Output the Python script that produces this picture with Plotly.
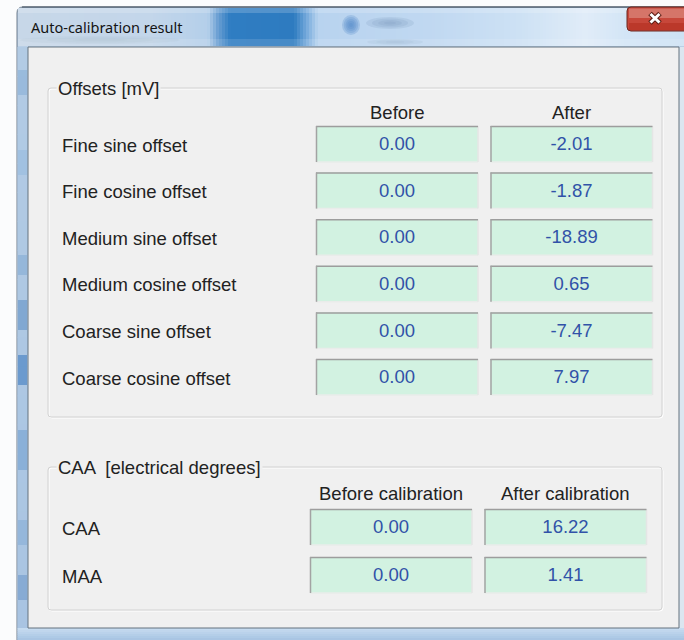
import plotly.graph_objects as go

# ---------------- data ----------------
window_title = "Auto-calibration result"

offsets_group_title = "Offsets [mV]"
offset_headers = ["Before", "After"]
offset_labels = ["Fine sine offset", "Fine cosine offset", "Medium sine offset",
                 "Medium cosine offset", "Coarse sine offset", "Coarse cosine offset"]
offset_before = [0.00, 0.00, 0.00, 0.00, 0.00, 0.00]
offset_after = [-2.01, -1.87, -18.89, 0.65, -7.47, 7.97]

caa_group_title = "CAA  [electrical degrees]"
caa_headers = ["Before calibration", "After calibration"]
caa_labels = ["CAA", "MAA"]
caa_before = [0.00, 0.00]
caa_after = [16.22, 1.41]

# ---------------- helpers ----------------
W, H = 684, 640
shapes = []
annotations = []

LABEL_FONT = "Liberation Sans, Arial, sans-serif"
TITLE_FONT = "Noto Sans, Open Sans, sans-serif"


def hexrgb(c):
    c = c.lstrip("#")
    return tuple(int(c[i:i + 2], 16) for i in (0, 2, 4))


def mix(c1, c2, t):
    a, b = hexrgb(c1), hexrgb(c2)
    return "#%02x%02x%02x" % tuple(round(a[i] + (b[i] - a[i]) * t) for i in range(3))


def rect(x0, y0, x1, y1, fill=None, line=None, lw=0, opacity=1.0):
    shapes.append(dict(type="rect", xref="x", yref="y", x0=x0, y0=y0, x1=x1, y1=y1,
                       fillcolor=fill if fill else "rgba(0,0,0,0)",
                       line=dict(color=line if line else "rgba(0,0,0,0)", width=lw),
                       opacity=opacity, layer="below"))


def seg(x0, y0, x1, y1, color, lw=1, layer="below"):
    shapes.append(dict(type="line", xref="x", yref="y", x0=x0, y0=y0, x1=x1, y1=y1,
                       line=dict(color=color, width=lw), layer=layer))


def rrect_path(x0, y0, x1, y1, r):
    return (f"M{x0 + r},{y0} L{x1 - r},{y0} Q{x1},{y0} {x1},{y0 + r} "
            f"L{x1},{y1 - r} Q{x1},{y1} {x1 - r},{y1} L{x0 + r},{y1} "
            f"Q{x0},{y1} {x0},{y1 - r} L{x0},{y0 + r} Q{x0},{y0} {x0 + r},{y0} Z")


def rrect(x0, y0, x1, y1, r, fill=None, line=None, lw=1, layer="below", opacity=1.0):
    shapes.append(dict(type="path", xref="x", yref="y", path=rrect_path(x0, y0, x1, y1, r),
                       fillcolor=fill if fill else "rgba(0,0,0,0)",
                       line=dict(color=line if line else "rgba(0,0,0,0)", width=lw),
                       layer=layer, opacity=opacity))


def blob(cx, cy, rx, ry, color, n=5, op=0.22):
    for k in range(n):
        f = 1 - k / n
        shapes.append(dict(type="circle", xref="x", yref="y",
                           x0=cx - rx * f, x1=cx + rx * f, y0=cy - ry * f, y1=cy + ry * f,
                           fillcolor=color, line=dict(width=0), opacity=op, layer="below"))


def hgrad(x0, x1, y0, y1, stops, step=3):
    x = x0
    while x < x1:
        xm = x + step / 2
        for i in range(len(stops) - 1):
            if stops[i][0] <= xm <= stops[i + 1][0]:
                t = (xm - stops[i][0]) / max(1e-9, stops[i + 1][0] - stops[i][0])
                col = mix(stops[i][1], stops[i + 1][1], t)
                break
        else:
            col = stops[-1][1]
        rect(x, y0, min(x + step + 0.6, x1), y1, fill=col)
        x += step


def vgrad(x0, x1, y0, y1, c0, c1, n):
    h = (y1 - y0) / n
    for i in range(n):
        rect(x0, y0 + i * h, x1, y0 + (i + 1) * h + 0.6, fill=mix(c0, c1, (i + 0.5) / n))


# ---------------- window chrome ----------------
rrect(17, 7, 700, 660, 6, fill="#b9cfe6", line="#6f7d8b", lw=1)

# title bar (blurred aero glass)
hgrad(18, 684, 8, 46, [
    (18, "#c7d7e8"), (150, "#c3d6ea"), (208, "#b4cfea"), (218, "#6a9fd3"),
    (230, "#2f7dc2"), (294, "#2e7bc0"), (306, "#72a8da"), (318, "#b8d3ef"),
    (430, "#c0d8f1"), (520, "#cde1f4"), (585, "#e0ecf8"), (626, "#d3e5f6"),
    (684, "#cde2f4")], step=3)
rect(18, 8, 684, 13, fill="#ffffff", opacity=0.18)
rect(18, 39, 684, 46, fill="#ffffff", opacity=0.12)
# blurred background icon + text behind glass
blob(351, 25, 9, 10, "#4f89c6", n=5, op=0.25)
blob(390, 23, 24, 6, "#7f9dbf", n=4, op=0.2)
blob(395, 42, 28, 3, "#9fb7d0", n=3, op=0.2)
blob(100, 40, 80, 4, "#a9b9c9", n=3, op=0.15)
seg(22, 7, 684, 7, "#3d4b59", 1)

# left frame streaks
vgrad(17.5, 28, 47, 628, "#b2cbe4", "#a9c4e2", 20)
for (ya, yb, col) in [(70, 95, "#8fb3d9"), (150, 175, "#9bbde0"), (255, 275, "#8aafd6"),
                      (300, 330, "#6e9acb"), (355, 385, "#4f88c4"), (430, 470, "#7ca7d3"),
                      (520, 545, "#8cb1d8"), (575, 600, "#789fcf")]:
    rect(18, ya, 27, yb, fill=col, opacity=0.7)

# bottom frame
vgrad(17.5, 684, 628, 640, "#c8ddf1", "#a6c3e2", 6)
# right frame
rect(679, 47, 684, 628, fill="#dbe6f0")

# client area
rect(28, 47, 679, 628, fill="#f0f0f0", line="#65737f", lw=1)

# close button
rrect(627, 7, 694, 31, 4, fill="#c7473a", line="#6b2820", lw=1)
rect(629, 8.5, 684, 18, fill="#e09a90", opacity=0.55)
rect(629, 23, 684, 30, fill="#b22e1f", opacity=0.6)
seg(650, 13.5, 660, 23, "#5a1c14", 5, layer="above")
seg(660, 13.5, 650, 23, "#5a1c14", 5, layer="above")
seg(650.5, 14, 659.5, 22.5, "#ffffff", 3, layer="above")
seg(659.5, 14, 650.5, 22.5, "#ffffff", 3, layer="above")

annotations.append(dict(x=29, y=27, xref="x", yref="y", text=window_title, showarrow=False,
                        xanchor="left", yanchor="middle",
                        font=dict(family=TITLE_FONT, size=14.5, color="#141414")))


# ---------------- group boxes ----------------
def group_box(x0, y0, x1, y1, title):
    rrect(x0 + 1, y0 + 1, x1 + 1, y1 + 1, 3, line="#ffffff", lw=1)
    rrect(x0, y0, x1, y1, 3, line="#d2d2d2", lw=1)
    annotations.append(dict(x=56, y=y0, xref="x", yref="y", text=title, showarrow=False,
                            xanchor="left", yanchor="middle", bgcolor="#f0f0f0", borderpad=1,
                            font=dict(family=LABEL_FONT, size=18.5, color="#222222")))


def cell(x0, y0, x1, y1):
    rect(x0, y0, x1, y1, fill="#d2f2e1")
    seg(x0, y1, x1, y1, "#e9ecea", 1.5)
    seg(x1, y0, x1, y1, "#e4e6e5", 1.5)
    seg(x0, y0 + 0.5, x1, y0 + 0.5, "#9d9d9d", 1.5)
    seg(x0 + 0.5, y0, x0 + 0.5, y1, "#a3a3a3", 1.5)


def value_table(labels, before, after, headers, row_y0, row_step, col_x, cell_w, head_y):
    xs, ys, txt = [], [], []
    for i, lab in enumerate(labels):
        yc = row_y0 + i * row_step
        annotations.append(dict(x=60, y=yc + 1, xref="x", yref="y", text=lab, showarrow=False,
                                xanchor="left", yanchor="middle",
                                font=dict(family=LABEL_FONT, size=18.5, color="#222222")))
        for j, vals in enumerate((before, after)):
            cx = col_x[j]
            cell(cx - cell_w / 2, yc - 18, cx + cell_w / 2, yc + 18)
            xs.append(cx)
            ys.append(yc + 1.5)
            txt.append(f"{vals[i]:.2f}")
    for j, h in enumerate(headers):
        annotations.append(dict(x=col_x[j], y=head_y, xref="x", yref="y", text=h,
                                showarrow=False, xanchor="center", yanchor="middle",
                                font=dict(family=LABEL_FONT, size=18.5, color="#222222")))
    return go.Scatter(x=xs, y=ys, mode="text", text=txt, textposition="middle center",
                      textfont=dict(family=LABEL_FONT, size=18.5, color="#3152a8"),
                      hoverinfo="skip", showlegend=False)


group_box(48, 88, 662, 417, offsets_group_title)
group_box(48, 467, 662, 610, caa_group_title)

t1 = value_table(offset_labels, offset_before, offset_after, offset_headers,
                 row_y0=144, row_step=46.6, col_x=[397, 571.5], cell_w=162, head_y=112)
t2 = value_table(caa_labels, caa_before, caa_after, caa_headers,
                 row_y0=527, row_step=48, col_x=[391, 565.5], cell_w=162, head_y=493)

fig = go.Figure(data=[t1, t2])
fig.update_layout(
    width=W, height=H, margin=dict(l=0, r=0, t=0, b=0, pad=0),
    paper_bgcolor="#fbfcfd", plot_bgcolor="#fbfcfd",
    xaxis=dict(range=[0, W], visible=False, fixedrange=True),
    yaxis=dict(range=[H, 0], visible=False, fixedrange=True),
    shapes=shapes, annotations=annotations, showlegend=False,
)

fig.write_html("out.html", config={"displayModeBar": False, "staticPlot": True},
               post_script="document.body.style.margin='0';document.body.style.overflow='hidden';")
